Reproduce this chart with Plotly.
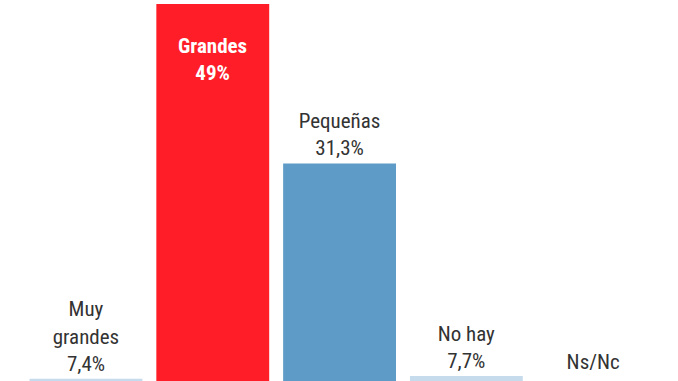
import plotly.graph_objects as go

categories = ["Muy grandes", "Grandes", "Pequeñas", "No hay", "Ns/Nc"]
values = [7.4, 49.0, 31.3, 7.7, 4.6]
label_names = ["Muy<br>grandes", "Grandes", "Pequeñas", "No hay", "Ns/Nc"]
value_labels = ["7,4%", "49%", "31,3%", "7,7%", "4,6%"]
colors = ["#C6DBEC", "#FF1D28", "#5E9BC6", "#C6DBEC", "#C6DBEC"]

FONT = "Roboto Condensed, Liberation Sans Narrow, Roboto, sans-serif"

texts = [f"{n}<br>{v}" for n, v in zip(label_names, value_labels)]
positions = ["outside", "none", "outside", "outside", "outside"]

fig = go.Figure(
    go.Bar(
        x=list(range(len(categories))),
        y=values,
        width=0.89,
        marker=dict(color=colors, line=dict(width=0)),
        text=texts,
        textposition=positions,
        textfont=dict(family=FONT, size=21, color="#333333"),
        constraintext="none",
        cliponaxis=True,
        hoverinfo="skip",
    )
)

fig.add_annotation(
    x=1, y=values[1], xref="x", yref="y",
    text=f"<b>{label_names[1]}<br>{value_labels[1]}</b>",
    showarrow=False, yanchor="top", yshift=-28,
    font=dict(family=FONT, size=21, color="white"),
)

fig.update_layout(
    width=678, height=381,
    margin=dict(l=0, r=0, t=0, b=0),
    paper_bgcolor="white", plot_bgcolor="white",
    showlegend=False,
    xaxis=dict(range=[-0.678, 4.669], visible=False, fixedrange=True),
    yaxis=dict(range=[7.158, 49.444], visible=False, fixedrange=True),
)

fig.write_html("out.html", config={"displayModeBar": False})
